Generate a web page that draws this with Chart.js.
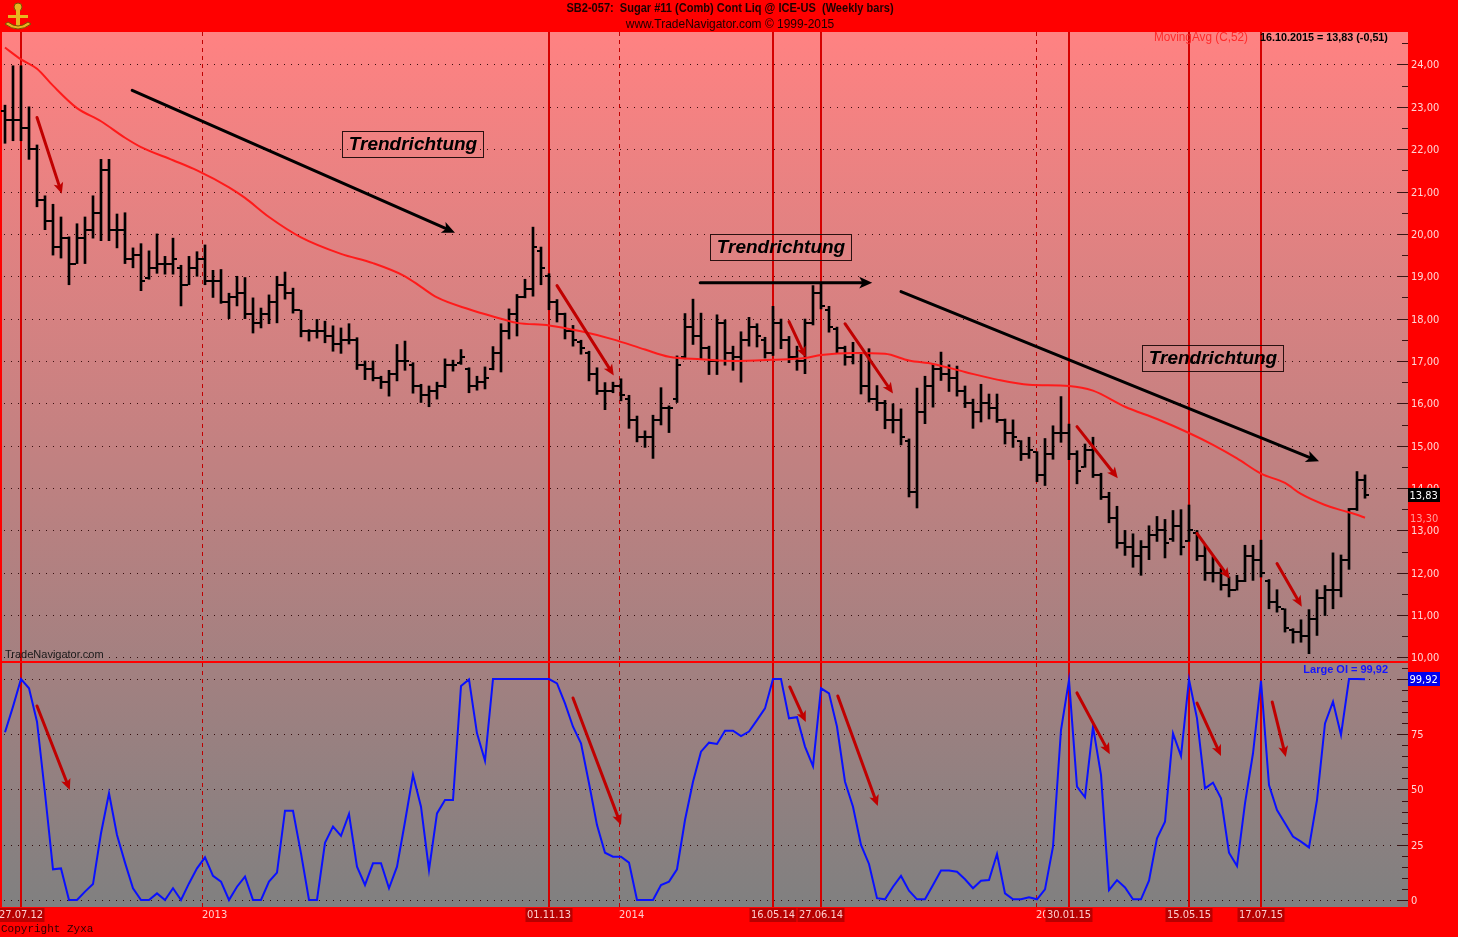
<!DOCTYPE html>
<html>
<head>
<meta charset="utf-8">
<title>Sugar #11 weekly bars</title>
<script src="https://cdn.jsdelivr.net/npm/chart.js@4.4.0/dist/chart.umd.min.js"></script>
<style>
  html, body { margin: 0; padding: 0; background: #ff0000; overflow: hidden; }
  #wrap { position: relative; width: 1458px; height: 937px; }
  #priceBox { position: absolute; left: 0; top: 0; width: 1458px; height: 663px; }
  #oiBox { position: absolute; left: 0; top: 663px; width: 1458px; height: 274px; }
</style>
</head>
<body>
<div id="wrap">
  <div id="priceBox"><canvas id="priceChart"></canvas></div>
  <div id="oiBox"><canvas id="oiChart"></canvas></div>
</div>
<script>
// weekly bars, index 0 = 13.07.12 ... index 170 = 16.10.15
const opens = [22.9,22.7,22.7,22.5,22.0,20.8,20.3,19.7,19.9,19.3,
  19.9,20.1,20.5,21.5,20.1,20.1,19.4,19.5,18.95,19.2,
  19.3,19.3,19.2,18.8,19.2,19.4,18.9,18.9,18.4,18.5,
  18.6,18.1,17.9,18.1,18.4,18.8,18.6,18.2,17.7,17.7,
  17.7,17.6,17.4,17.5,17.5,16.9,16.8,16.6,16.5,16.7,
  17.0,16.9,16.4,16.2,16.3,16.4,16.9,16.95,16.8,16.4,
  16.5,16.8,17.2,17.7,18.1,18.5,18.7,19.6,19.0,18.4,
  18.1,17.7,17.45,17.2,16.7,16.3,16.3,16.4,16.1,15.6,
  15.2,15.2,15.6,15.9,16.1,17.1,17.8,17.6,17.3,17.0,
  17.9,17.2,17.1,17.5,17.8,17.5,17.2,17.9,17.5,17.1,
  17.0,17.9,18.6,18.2,17.75,17.3,17.1,17.2,16.4,16.1,
  16.0,15.6,15.6,15.1,13.9,15.8,16.4,16.8,16.7,16.6,
  16.3,16.0,15.8,16.0,15.9,15.6,15.3,15.1,14.8,14.85,
  14.3,14.8,15.3,15.3,14.8,14.5,14.9,14.3,13.8,13.3,
  12.7,12.6,12.4,12.6,12.9,13.0,12.8,13.1,12.75,12.95,
  12.4,12.0,12.0,11.7,11.6,11.8,12.4,12.3,11.8,11.3,
  11.15,10.65,10.6,10.5,10.9,11.4,11.6,11.6,12.3,13.5,
  14.2];
const highs = [23.04,23.97,23.97,23.0,22.1,20.9,20.7,20.4,19.93,20.24,
  20.4,20.9,21.76,21.76,20.47,20.5,19.67,19.77,19.6,20.0,
  19.47,19.9,19.26,19.47,19.58,19.74,19.14,19.16,18.6,19.0,
  18.97,18.49,18.25,18.56,19.0,19.1,18.72,18.2,17.74,17.98,
  17.94,17.83,17.78,17.88,17.55,17.0,17.0,16.64,16.78,17.39,
  17.47,16.96,16.45,16.41,16.5,17.05,17.02,17.27,16.84,16.64,
  16.86,17.34,17.88,18.23,18.57,18.93,20.16,19.69,19.06,18.45,
  18.13,17.84,17.49,17.23,16.84,16.49,16.5,16.58,16.19,15.7,
  15.35,15.72,16.37,15.94,17.12,18.12,18.46,18.13,17.35,18.09,
  17.97,17.35,17.69,18.03,17.88,17.56,18.29,17.99,17.58,17.35,
  17.99,18.78,18.82,18.29,17.8,17.35,17.44,17.2,17.29,16.42,
  16.07,15.99,15.87,15.16,16.36,16.64,16.93,17.21,16.91,16.88,
  16.41,16.1,16.45,16.22,16.22,15.63,15.61,15.12,15.2,14.86,
  15.17,15.47,16.16,15.51,14.88,15.04,15.2,14.35,13.9,13.57,
  13.0,12.92,12.76,13.11,13.33,13.26,13.47,13.49,13.6,13.0,
  12.65,12.38,12.1,11.9,11.94,12.65,12.65,12.77,11.84,11.6,
  11.15,10.68,10.89,11.13,11.6,11.7,12.47,12.42,13.52,14.39,
  14.31];
const lows = [22.14,22.2,22.2,21.76,20.64,20.1,19.5,19.43,18.8,19.3,
  19.3,19.9,19.84,19.84,19.67,19.3,19.2,18.66,18.93,19.07,
  19.05,19.05,18.3,18.8,19.0,18.8,18.5,18.36,18.0,18.3,
  18.0,17.66,17.78,17.88,17.9,18.46,18.13,17.57,17.47,17.54,
  17.43,17.23,17.18,17.4,16.8,16.56,16.53,16.35,16.17,16.53,
  16.78,16.24,16.02,15.92,16.1,16.37,16.76,16.92,16.25,16.31,
  16.34,16.79,16.74,17.52,17.59,18.49,18.53,18.8,18.21,17.92,
  17.52,17.35,17.16,16.53,16.21,15.85,16.25,16.06,15.41,15.09,
  14.96,14.7,15.49,15.31,16.02,17.05,17.39,17.05,16.68,16.68,
  16.9,16.78,16.5,17.35,17.33,17.07,17.13,17.29,16.96,16.78,
  16.7,17.85,18.23,17.68,17.19,16.9,16.93,16.22,16.03,15.83,
  15.4,15.3,15.02,13.79,13.53,15.52,15.91,16.54,16.28,16.17,
  15.9,15.41,15.56,15.63,15.55,15.04,14.96,14.65,14.7,14.15,
  14.06,14.68,15.08,14.67,14.1,14.49,14.25,13.73,13.18,12.58,
  12.41,12.13,11.94,12.31,12.74,12.35,12.74,12.42,12.74,12.29,
  11.82,11.78,11.59,11.43,11.59,11.79,11.82,11.9,11.15,11.07,
  10.6,10.34,10.36,10.09,10.52,10.99,11.15,11.43,12.08,13.47,
  13.76];
const closes = [22.7,22.7,22.5,22.0,20.8,20.3,19.7,19.9,19.3,19.9,
  20.1,20.5,21.5,20.1,20.1,19.4,19.5,18.9,19.2,19.3,
  19.3,19.4,18.8,19.2,19.4,18.9,18.9,18.4,18.5,18.6,
  18.1,17.9,18.1,18.4,18.8,18.6,18.2,17.7,17.7,17.7,
  17.6,17.4,17.5,17.5,16.9,16.8,16.6,16.5,16.7,17.0,
  17.0,16.4,16.2,16.3,16.4,16.9,16.9,17.1,16.4,16.5,
  16.6,17.2,17.7,18.1,18.5,18.7,19.7,19.2,18.4,18.1,
  17.7,17.5,17.3,16.7,16.3,16.3,16.4,16.2,15.6,15.2,
  15.2,15.6,15.9,15.9,16.9,17.8,17.6,17.3,17.0,17.9,
  17.2,17.1,17.5,17.8,17.6,17.2,17.9,17.5,17.1,17.0,
  17.9,18.6,18.3,17.8,17.3,17.1,17.2,16.4,16.1,16.0,
  15.6,15.6,15.2,13.9,15.8,16.4,16.8,16.7,16.6,16.3,
  16.0,15.8,16.0,15.9,15.6,15.3,15.2,14.8,14.9,14.3,
  14.8,15.3,15.3,14.8,14.4,14.9,14.3,13.8,13.3,12.7,
  12.6,12.4,12.6,12.9,13.0,12.7,13.1,12.6,13.0,12.4,
  12.0,12.0,11.7,11.6,11.8,12.4,12.3,12.0,11.3,11.2,
  10.7,10.6,10.5,10.9,11.4,11.6,11.6,12.3,13.5,14.2,
  13.83];

// 52 week moving average
const maWeeks = [0,2,4,6,9,12,15,17,21,24,28,30,33,37,42,46,50,52,54,58,61,64,68,72,76,80,83,87,91,96,
  100,102,106,110,113,116,120,124,128,133,136,140,144,148,151,154,157,160,162,165,167,169,170];
const maValues = [24.4,24.12,23.9,23.5,22.97,22.66,22.27,22.05,21.74,21.5,21.1,20.85,20.4,19.92,19.53,19.31,19.0,18.75,18.5,18.22,
  18.05,17.9,17.84,17.7,17.51,17.27,17.1,17.04,17.0,17.03,17.07,17.14,17.19,17.17,17.01,16.93,16.74,16.56,16.44,16.41,
  16.3,15.92,15.63,15.3,15.02,14.7,14.34,14.12,13.86,13.6,13.48,13.37,13.3];

// Large OI indicator (0..100)
const oiValues = [75.9,87.5,100,95.8,80.7,48.3,13.9,14.3,0,0,
  3.8,7.2,30.2,48.3,29.4,16.9,5.3,0,0,3,
  0,5.3,0,7.5,14.3,19.3,10.9,8.3,0,6,
  10.6,0,0,8.3,12.4,40.4,40.4,21.1,0,0,
  25.9,33.2,29,38.9,15.1,6.8,16.6,16.6,5.3,15.1,
  35.4,56.6,42.2,13.6,39.2,45.2,45.2,96.8,99.8,75.4,
  63,100,100,100,100,100,100,100,100,98,
  89,78.4,70.9,52.8,33.9,21.4,19.6,19.6,16.9,0,
  0,0,6.8,8.3,13.9,36.2,53.5,67.1,71.2,70.6,
  76.6,76.6,74.2,76.2,81.4,86.7,100,100,82.2,82.7,
  69.4,60.6,95.8,93.5,78.4,53.5,42.2,24.9,16.3,0.8,
  0.3,6,10.9,4.2,0.3,0.3,6.8,13.3,13.3,12.8,
  9.4,5.3,8.7,9,20.8,3,0.3,0.3,1.2,0.3,
  4.8,24.1,76.9,99.5,51.3,46.5,78.4,56.6,4.5,9,
  5.7,0.3,0.3,8.7,27.9,35.4,75.4,65.2,99.8,82.2,
  50.5,53.1,46,21.4,15.4,43.7,66.4,99.2,52,40.7,
  34.7,28.7,26.4,23.8,45.2,79.9,89.7,74.7,100,100,
  99.92];

const eventWeeks = [2, 68, 96, 102, 133, 148, 157];
const eventLabels = ['27.07.12', '01.11.13', '16.05.14', '27.06.14', '30.01.15', '15.05.15', '17.07.15'];
const yearWeeks = [24.57, 76.71, 128.86];
const yearLabels = ['2013', '2014', '2015'];
const priceTicks = [10, 11, 12, 13, 14, 15, 16, 17, 18, 19, 20, 21, 22, 23, 24];
const oiTicks = [0, 25, 50, 75, 100];

// annotations in data units: [week, value, week, value]
const trendArrows = [[15.9, 23.39, 56.25, 20.03], [86.9, 18.85, 108.4, 18.85], [112, 18.64, 164.25, 14.63]];
const trendLabels = [[51, 22.13], [97, 19.68], [151, 17.08]];
const priceRedArrows = [[4, 22.75, 7.1, 20.95], [69, 18.78, 76.1, 16.66], [98, 17.93, 100.1, 17.08],
  [105, 17.88, 111, 16.23], [134, 15.45, 139.1, 14.23], [149, 12.93, 153.1, 11.86], [159, 12.22, 162.1, 11.2]];
const oiRedArrows = [[4, 87.8, 8.1, 49.8], [71, 91.4, 77, 33.9], [98.1, 96.4, 100.1, 80.5],
  [104.1, 92.3, 109.1, 42.5], [134, 93.7, 138.1, 66], [149, 89.1, 152, 65.2], [158.4, 89.6, 160.1, 64.7]];

const NARROW = '"Liberation Sans Narrow", "Arial Narrow", "DejaVu Sans Condensed", sans-serif';
const ARIAL = '"Liberation Sans", Arial, sans-serif';
const fmt = v => v.toFixed(2).replace('.', ',');

// Arial squeezed sideways, stands in for Arial Narrow
function narrowText(ctx, text, x, y, font, align, squeeze) {
  ctx.save();
  ctx.font = font;
  ctx.textBaseline = 'middle';
  ctx.textAlign = align;
  ctx.translate(x, y);
  ctx.scale(squeeze, 1);
  ctx.fillText(text, 0, 0);
  ctx.restore();
}

function paintBackground(chart, offsetTop) {
  const { ctx, chartArea: a, width, height } = chart;
  ctx.save();
  ctx.fillStyle = '#ff0000';
  ctx.fillRect(0, 0, width, height);
  const g = ctx.createLinearGradient(0, 32 - offsetTop, 0, 907 - offsetTop);
  g.addColorStop(0, '#ff8282');
  g.addColorStop(1, '#808080');
  ctx.fillStyle = g;
  ctx.fillRect(a.left, a.top, a.right - a.left, a.bottom - a.top);
  ctx.restore();
}

function dottedRows(chart, values) {
  const { ctx, chartArea: a, scales: { y } } = chart;
  ctx.save();
  ctx.strokeStyle = 'rgba(40,0,0,0.9)';
  ctx.lineWidth = 1;
  ctx.setLineDash([1, 6]);
  values.forEach(v => {
    const py = Math.round(y.getPixelForValue(v)) + 0.5;
    ctx.beginPath();
    ctx.moveTo(a.left + 4, py);
    ctx.lineTo(a.right - 2, py);
    ctx.stroke();
  });
  ctx.restore();
}

function timeLines(chart) {
  const { ctx, chartArea: a, scales: { x } } = chart;
  ctx.save();
  ctx.strokeStyle = '#c00000';
  ctx.lineWidth = 1;
  ctx.setLineDash([4, 4]);
  yearWeeks.forEach(w => {
    const px = Math.round(x.getPixelForValue(w)) + 0.5;
    ctx.beginPath(); ctx.moveTo(px, a.top); ctx.lineTo(px, a.bottom); ctx.stroke();
  });
  ctx.setLineDash([]);
  ctx.strokeStyle = '#d40000';
  ctx.lineWidth = 2;
  eventWeeks.forEach(w => {
    const px = Math.round(x.getPixelForValue(w));
    ctx.beginPath(); ctx.moveTo(px, a.top); ctx.lineTo(px, a.bottom); ctx.stroke();
  });
  // left frame
  ctx.strokeStyle = '#ff0000';
  ctx.beginPath(); ctx.moveTo(a.left + 1, a.top); ctx.lineTo(a.left + 1, a.bottom); ctx.stroke();
  ctx.restore();
}

function drawArrow(ctx, x1, y1, x2, y2, color, lw, head) {
  const ang = Math.atan2(y2 - y1, x2 - x1);
  const c = Math.cos(ang), s = Math.sin(ang);
  ctx.save();
  ctx.strokeStyle = color;
  ctx.fillStyle = color;
  ctx.lineWidth = lw;
  ctx.lineCap = 'round';
  ctx.beginPath();
  ctx.moveTo(x1, y1);
  ctx.lineTo(x2 - c * head * 0.7, y2 - s * head * 0.7);
  ctx.stroke();
  ctx.beginPath();
  ctx.moveTo(x2, y2);
  ctx.lineTo(x2 - head * c + head * 0.45 * s, y2 - head * s - head * 0.45 * c);
  ctx.lineTo(x2 - head * 0.75 * c, y2 - head * 0.75 * s);
  ctx.lineTo(x2 - head * c - head * 0.45 * s, y2 - head * s + head * 0.45 * c);
  ctx.closePath();
  ctx.fill();
  ctx.restore();
}

function rightAxis(chart, majors, minorStep, labelFn) {
  const { ctx, chartArea: a, scales: { y } } = chart;
  ctx.save();
  ctx.fillStyle = '#3a1414';
  for (let v = y.min; v <= y.max; v += 0.0001) {
    v = Math.ceil(v / minorStep) * minorStep;
    if (v > y.max) break;
    const py = Math.round(y.getPixelForValue(v));
    const major = majors.some(m => Math.abs(m - v) < 1e-6);
    const len = major ? 11 : 6;
    ctx.fillRect(a.right - len, py, len, 1);
  }
  ctx.font = '11px ' + NARROW;
  ctx.fillStyle = '#ffd6d6';
  ctx.textAlign = 'left';
  ctx.textBaseline = 'middle';
  majors.forEach(m => {
    const t = labelFn(m);
    if (t) ctx.fillText(t, a.right + 3, Math.round(y.getPixelForValue(m)) + 1);
  });
  ctx.restore();
}

function valueBox(ctx, text, x, y, bg, fg) {
  ctx.save();
  ctx.font = '11px ' + NARROW;
  const w = Math.ceil(ctx.measureText(text).width) + 3;
  ctx.fillStyle = bg;
  ctx.fillRect(x, y - 7, w, 14);
  ctx.fillStyle = fg;
  ctx.textAlign = 'left';
  ctx.textBaseline = 'middle';
  ctx.fillText(text, x + 1.5, y + 1);
  ctx.restore();
}

function drawLogo(ctx) {
  ctx.save();
  ctx.fillStyle = '#e8b420';
  ctx.strokeStyle = '#7a5200';
  ctx.lineWidth = 1;
  ctx.beginPath(); ctx.arc(18, 7, 4, 0, Math.PI * 2); ctx.fill(); ctx.stroke();
  ctx.fillRect(16, 10, 4, 18);
  ctx.fillRect(8, 15, 20, 3);
  ctx.beginPath(); ctx.moveTo(5, 24); ctx.quadraticCurveTo(18, 34, 31, 24); ctx.lineTo(28, 22);
  ctx.quadraticCurveTo(18, 30, 8, 22); ctx.closePath(); ctx.fill(); ctx.stroke();
  ctx.restore();
}

const pricePlugin = {
  id: 'priceDecor',
  beforeDraw(chart) {
    paintBackground(chart, 0);
    dottedRows(chart, priceTicks);
  },
  beforeDatasetsDraw(chart) {
    timeLines(chart);
  },
  afterDatasetDraw(chart, args) {
    if (args.index !== 0) return;
    const { ctx, scales: { x, y } } = chart;
    ctx.save();
    ctx.fillStyle = '#000';
    opens.forEach((o, i) => {
      const px = Math.round(x.getPixelForValue(i));
      ctx.fillRect(px - 4, Math.round(y.getPixelForValue(o)) - 1, 3, 2);
      ctx.fillRect(px + 1, Math.round(y.getPixelForValue(closes[i])) - 1, 3, 2);
    });
    ctx.restore();
  },
  afterDraw(chart) {
    const { ctx, chartArea: a, scales: { x, y } } = chart;
    rightAxis(chart, priceTicks, 0.5, fmt);
    const last = closes[closes.length - 1];
    const lastMa = maValues[maValues.length - 1];
    valueBox(ctx, fmt(last), a.right, Math.round(y.getPixelForValue(last)), '#000000', '#ffffff');
    ctx.save();
    ctx.font = '11px ' + NARROW;
    ctx.fillStyle = '#ff9c9c';
    ctx.textBaseline = 'middle';
    ctx.fillText(fmt(lastMa), a.right + 2, Math.round(y.getPixelForValue(lastMa)) + 1);
    ctx.restore();

    trendArrows.forEach(t => drawArrow(ctx, x.getPixelForValue(t[0]), y.getPixelForValue(t[1]),
      x.getPixelForValue(t[2]), y.getPixelForValue(t[3]), '#000000', 3, 13));
    priceRedArrows.forEach(t => drawArrow(ctx, x.getPixelForValue(t[0]), y.getPixelForValue(t[1]),
      x.getPixelForValue(t[2]), y.getPixelForValue(t[3]), '#c00000', 3, 11));

    ctx.save();
    ctx.font = 'italic bold 19px ' + ARIAL;
    ctx.textAlign = 'center';
    ctx.textBaseline = 'middle';
    trendLabels.forEach(t => {
      const cx = Math.round(x.getPixelForValue(t[0]));
      const cy = Math.round(y.getPixelForValue(t[1]));
      ctx.strokeStyle = '#2a1010';
      ctx.lineWidth = 1;
      ctx.strokeRect(cx - 70.5, cy - 12.5, 141, 26);
      ctx.fillStyle = '#000';
      ctx.fillText('Trendrichtung', cx, cy + 1);
    });
    ctx.restore();

    ctx.save();
    ctx.fillStyle = '#1e0000';
    narrowText(ctx, 'SB2-057:  Sugar #11 (Comb) Cont Liq @ ICE-US  (Weekly bars)', 730, 9,
      'bold 12px ' + ARIAL, 'center', 0.92);
    narrowText(ctx, 'www.TradeNavigator.com \u00a9 1999-2015', 730, 24, '13px ' + ARIAL, 'center', 0.92);
    ctx.fillStyle = '#ff2a2a';
    narrowText(ctx, 'MovingAvg (C,52)', 1154, 38, '12px ' + ARIAL, 'left', 0.98);
    ctx.fillStyle = '#000';
    narrowText(ctx, '16.10.2015 = 13,83 (-0,51)', 1260, 38, 'bold 11px ' + ARIAL, 'left', 0.98);
    ctx.font = '11px ' + ARIAL;
    ctx.fillStyle = '#1a1a1a';
    ctx.textBaseline = 'middle';
    ctx.fillText('TradeNavigator.com', 5, a.bottom - 6);
    ctx.restore();
    drawLogo(ctx);
  }
};

const oiPlugin = {
  id: 'oiDecor',
  beforeDraw(chart) {
    paintBackground(chart, 663);
    dottedRows(chart, oiTicks);
  },
  beforeDatasetsDraw(chart) {
    timeLines(chart);
  },
  afterDraw(chart) {
    const { ctx, chartArea: a, scales: { x, y } } = chart;
    rightAxis(chart, oiTicks, 5, v => (v === 100 ? '' : String(v)));
    const last = oiValues[oiValues.length - 1];
    valueBox(ctx, fmt(last), a.right, Math.round(y.getPixelForValue(last)), '#0000ee', '#ffffff');
    ctx.save();
    ctx.fillStyle = '#1414ff';
    narrowText(ctx, 'Large OI = ' + fmt(last), 1388, a.top + 7, 'bold 11px ' + ARIAL, 'right', 1.0);
    ctx.restore();

    oiRedArrows.forEach(t => drawArrow(ctx, x.getPixelForValue(t[0]), y.getPixelForValue(t[1]),
      x.getPixelForValue(t[2]), y.getPixelForValue(t[3]), '#c00000', 3, 11));

    // date labels in the footer
    ctx.save();
    ctx.font = '11px ' + NARROW;
    ctx.textBaseline = 'middle';
    const ly = a.bottom + 8;
    ctx.fillStyle = '#ffcccc';
    ctx.textAlign = 'left';
    yearWeeks.forEach((w, i) => ctx.fillText(yearLabels[i], Math.round(x.getPixelForValue(w)), ly));
    ctx.textAlign = 'center';
    eventWeeks.forEach((w, i) => {
      const px = Math.round(x.getPixelForValue(w));
      const tw = Math.ceil(ctx.measureText(eventLabels[i]).width) + 2;
      ctx.fillStyle = '#b80000';
      ctx.fillRect(px - tw / 2, a.bottom + 1, tw, 14);
      ctx.fillStyle = '#ffcccc';
      ctx.fillText(eventLabels[i], px, ly);
    });
    ctx.textAlign = 'left';
    ctx.font = '11px "Liberation Mono", "DejaVu Sans Mono", monospace';
    ctx.fillStyle = '#300000';
    ctx.fillText('Copyright Zyxa', 1, a.bottom + 22);
    ctx.restore();
  }
};

const xScale = { type: 'linear', min: -0.625, max: 175.375, display: false, offset: false, grid: { display: false, offset: false } };

new Chart(document.getElementById('priceChart'), {
  type: 'bar',
  data: {
    datasets: [
      {
        type: 'bar',
        label: 'Sugar #11 weekly',
        data: highs.map((h, i) => ({ x: i, y: [lows[i], h] })),
        backgroundColor: '#000000',
        borderWidth: 0,
        barThickness: 2,
        grouped: false,
        order: 2
      },
      {
        type: 'line',
        label: 'MovingAvg (C,52)',
        data: maWeeks.map((w, i) => ({ x: w, y: maValues[i] })),
        borderColor: '#ff1a1a',
        borderWidth: 2,
        pointRadius: 0,
        cubicInterpolationMode: 'monotone',
        order: 1
      }
    ]
  },
  options: {
    responsive: true,
    maintainAspectRatio: false,
    animation: false,
    layout: { padding: { left: 0, right: 50, top: 32, bottom: 2 } },
    scales: {
      x: xScale,
      y: { type: 'linear', min: 9.917, max: 24.767, display: false, grid: { display: false } }
    },
    plugins: { legend: { display: false }, tooltip: { enabled: false } }
  },
  plugins: [pricePlugin]
});

new Chart(document.getElementById('oiChart'), {
  type: 'line',
  data: {
    datasets: [{
      label: 'Large OI',
      data: oiValues.map((v, i) => ({ x: i, y: v })),
      borderColor: '#0a10ff',
      borderWidth: 2,
      pointRadius: 0,
      tension: 0
    }]
  },
  options: {
    responsive: true,
    maintainAspectRatio: false,
    animation: false,
    layout: { padding: { left: 0, right: 50, top: 0, bottom: 30 } },
    scales: {
      x: xScale,
      y: { type: 'linear', min: -3.17, max: 107.24, display: false, grid: { display: false } }
    },
    plugins: { legend: { display: false }, tooltip: { enabled: false } }
  },
  plugins: [oiPlugin]
});
</script>
</body>
</html>
